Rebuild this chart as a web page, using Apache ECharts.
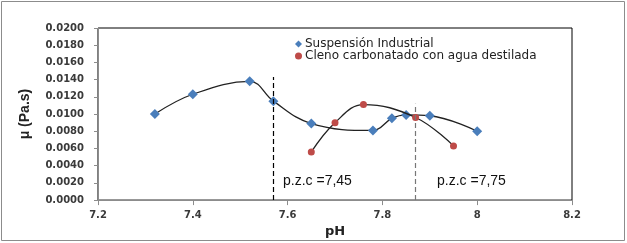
<!DOCTYPE html>
<html>
<head>
<meta charset="utf-8">
<script src="https://cdn.jsdelivr.net/npm/echarts@6/dist/echarts.min.js"></script>
<style>
html, body { margin: 0; padding: 0; background: #fff; }
#chart { width: 627px; height: 243px; }
</style>
</head>
<body>
<div id="chart"></div>
<script>
// Suspensión Industrial
let susPH = [7.32, 7.40, 7.52, 7.57, 7.65, 7.78, 7.82, 7.85, 7.90, 8.00];
let susMu = [0.0100, 0.0123, 0.0138, 0.0115, 0.0089, 0.0081, 0.0095, 0.0099, 0.0098, 0.0080];
// Cleno carbonatado con agua destilada
let clenoPH = [7.65, 7.70, 7.76, 7.87, 7.95];
let clenoMu = [0.0056, 0.0090, 0.0111, 0.0096, 0.0063];
// p.z.c lines
let pzcPH = [7.57, 7.87];
let pzcTop = [0.0143, 0.0112];
let pzcText = ['p.z.c =7,45', 'p.z.c =7,75'];

function pairs(xs, ys) {
	return xs.map((x, i) => [x, ys[i]]);
}

let $el = document.getElementById('chart');
let myChart = echarts.init($el, '', { renderer: 'canvas' });

let tickFont = {
	fontFamily: 'DejaVu Sans',
	fontSize: 10,
	fontWeight: 'bold',
	color: '#3a3a3a'
};

option = {
	animation: false,
	graphic: [
		{
			type: 'rect',
			shape: { x: 1.5, y: 1.5, width: 623, height: 239 },
			style: { fill: 'none', stroke: '#8c8c8c', lineWidth: 1 }
		},
		{
			type: 'text',
			left: 283,
			top: 174,
			style: { text: pzcText[0], font: '14px "Liberation Sans"', fill: '#111' }
		},
		{
			type: 'text',
			left: 437,
			top: 174,
			style: { text: pzcText[1], font: '14px "Liberation Sans"', fill: '#111' }
		}
	],
	grid: {
		left: 98,
		right: 55,
		top: 28,
		bottom: 40,
		show: true,
		borderColor: '#000',
		borderWidth: 1
	},
	legend: {
		orient: 'vertical',
		left: 290,
		top: 33,
		itemWidth: 7,
		itemHeight: 7,
		itemGap: 0,
		textStyle: { fontFamily: 'DejaVu Sans', fontSize: 12, color: '#222', padding: [0, 0, 0, -2] },
		data: [
			{ name: 'Suspensión Industrial', icon: 'diamond' },
			{ name: 'Cleno carbonatado con agua destilada', icon: 'circle' }
		]
	},
	xAxis: {
		type: 'value',
		min: 7.2,
		max: 8.2,
		interval: 0.2,
		name: 'pH',
		nameLocation: 'middle',
		nameGap: 11,
		nameTextStyle: { fontFamily: 'DejaVu Sans', fontSize: 13, fontWeight: 'bold', color: '#222' },
		axisLine: { lineStyle: { color: '#8c8c8c' } },
		axisTick: { show: true, length: 5, lineStyle: { color: '#8c8c8c' } },
		axisLabel: Object.assign({ margin: 10, formatter: (v) => String(parseFloat(v.toFixed(1))) }, tickFont),
		splitLine: { show: false }
	},
	yAxis: {
		type: 'value',
		min: 0,
		max: 0.02,
		interval: 0.002,
		name: 'μ (Pa.s)',
		nameLocation: 'middle',
		nameGap: 66,
		nameTextStyle: { fontFamily: 'Liberation Sans', fontSize: 14, fontWeight: 'bold', color: '#222' },
		axisLine: { show: true, lineStyle: { color: '#8c8c8c' } },
		axisTick: { show: true, length: 4, lineStyle: { color: '#8c8c8c' } },
		axisLabel: Object.assign({ margin: 14, formatter: (v) => v.toFixed(4) }, tickFont),
		splitLine: { show: false }
	},
	series: [
		{
			name: 'Suspensión Industrial',
			type: 'line',
			smooth: 0.4,
			data: pairs(susPH, susMu),
			symbol: 'diamond',
			symbolSize: 10,
			itemStyle: { color: '#4a7ebb' },
			lineStyle: { color: '#222', width: 1.3 },
			z: 3,
			markLine: {
				symbol: 'none',
				silent: true,
				label: { show: false },
				lineStyle: { color: '#000', type: [5, 3], width: 1.2 },
				data: [
					[{ coord: [pzcPH[0], 0] }, { coord: [pzcPH[0], pzcTop[0]] }]
				]
			}
		},
		{
			name: 'Cleno carbonatado con agua destilada',
			type: 'line',
			smooth: 0.4,
			data: pairs(clenoPH, clenoMu),
			symbol: 'circle',
			symbolSize: 7,
			itemStyle: { color: '#be4b48' },
			lineStyle: { color: '#222', width: 1.3 },
			z: 4,
			markLine: {
				symbol: 'none',
				silent: true,
				label: { show: false },
				lineStyle: { color: '#777', type: [5, 3], width: 1.2 },
				data: [
					[{ coord: [pzcPH[1], 0] }, { coord: [pzcPH[1], pzcTop[1]] }]
				]
			}
		}
	]
};
myChart.setOption(option);
window.onresize = myChart.resize;
</script>
</body>
</html>
